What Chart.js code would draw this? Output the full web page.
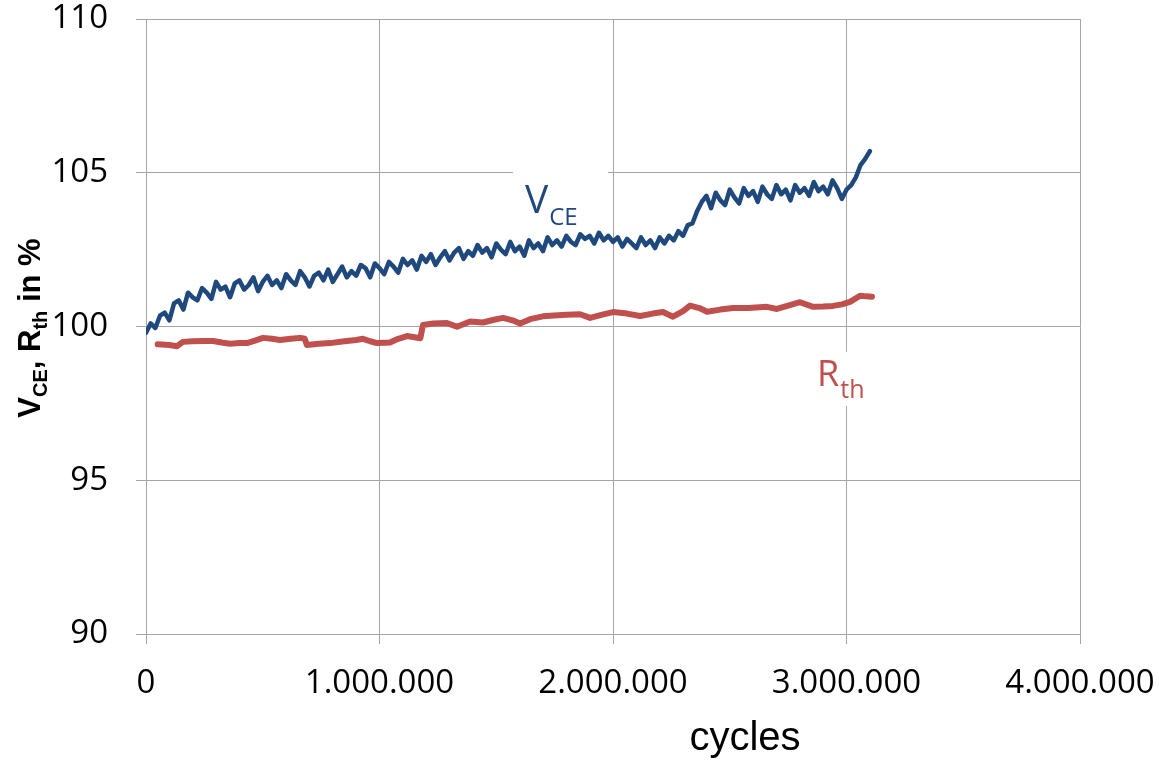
<!DOCTYPE html>
<html>
<head>
<meta charset="utf-8">
<script src="https://cdn.jsdelivr.net/npm/chart.js@4"></script>
<style>
  html, body { margin: 0; padding: 0; background: #fff; }
  #wrap { width: 1159px; height: 761px; }
</style>
</head>
<body>
<div id="wrap"><canvas id="cyclesChart"></canvas></div>
<script>
// cycles in thousands
var vceK = [0,20,40,60,80,100,120,140,160,180,200,220,240,260,280,300,320,340,360,380,
  400,420,440,460,480,500,520,540,560,580,600,620,640,660,680,700,720,740,760,780,
  800,820,840,860,880,900,920,940,960,980,1000,1020,1040,1060,1080,1100,1120,1140,1160,1180,
  1200,1220,1240,1260,1280,1300,1320,1340,1360,1380,1400,1420,1440,1460,1480,1500,1520,1540,1560,1580,
  1600,1620,1640,1660,1680,1700,1720,1740,1760,1780,1800,1820,1840,1860,1880,1900,1920,1940,1960,1980,
  2000,2020,2040,2060,2080,2100,2120,2140,2160,2180,2200,2220,2240,2260,2280,2300,2320,2340,2360,2380,
  2400,2420,2440,2460,2480,2500,2520,2540,2560,2580,2600,2620,2640,2660,2680,2700,2720,2740,2760,2780,
  2800,2820,2840,2860,2880,2900,2920,2940,2960,2980,3000,3020,3040,3060,3080,3100];
var vceValues = [99.8,100.1,99.95,100.35,100.45,100.2,100.75,100.85,100.55,101.1,100.95,100.85,101.25,101.1,100.9,101.45,101.2,101.3,100.95,101.4,
  101.5,101.2,101.35,101.6,101.15,101.45,101.65,101.35,101.5,101.25,101.7,101.5,101.35,101.8,101.6,101.3,101.65,101.75,101.5,101.85,
  101.45,101.7,101.95,101.6,101.8,101.65,102.0,101.9,101.6,102.05,101.9,101.7,102.1,101.95,101.75,102.2,102.0,102.15,101.85,102.3,
  102.1,102.35,102.0,102.25,102.45,102.15,102.4,102.55,102.2,102.45,102.3,102.65,102.4,102.55,102.25,102.7,102.5,102.35,102.75,102.45,
  102.6,102.3,102.8,102.55,102.7,102.45,102.9,102.65,102.8,102.6,102.95,102.75,102.65,103.0,102.85,102.95,102.7,103.05,102.8,102.95,
  102.75,102.9,102.6,102.85,102.7,102.55,102.9,102.65,102.8,102.55,102.9,102.7,102.95,102.8,103.1,102.95,103.3,103.35,103.75,104.05,
  104.25,103.85,104.35,104.1,103.95,104.45,104.2,104.0,104.5,104.25,104.4,104.05,104.55,104.3,104.15,104.6,104.3,104.45,104.1,104.6,
  104.35,104.5,104.25,104.7,104.4,104.55,104.3,104.75,104.5,104.15,104.45,104.6,104.85,105.25,105.45,105.7];

var rthK = [50,100,133,158,200,250,287,330,360,400,433,470,501,540,574,620,660,680,689,740,
  788,850,900,929,960,989,1020,1045,1080,1118,1150,1175,1186,1230,1289,1332,1388,1443,1490,1529,
  1570,1602,1650,1700,1730,1800,1859,1902,1950,2000,2060,2116,2170,2214,2257,2300,2330,2370,2403,2460,
  2514,2580,2659,2702,2750,2801,2857,2900,2942,2980,3015,3058,3085,3109];
var rthValues = [99.42,99.40,99.36,99.50,99.52,99.53,99.53,99.47,99.44,99.46,99.46,99.55,99.63,99.60,99.56,99.60,99.63,99.60,99.40,99.44,
  99.46,99.52,99.56,99.60,99.52,99.46,99.47,99.48,99.60,99.69,99.65,99.62,100.05,100.10,100.11,99.99,100.16,100.13,100.22,100.28,
  100.20,100.10,100.25,100.33,100.35,100.38,100.40,100.28,100.38,100.47,100.42,100.34,100.42,100.47,100.32,100.50,100.68,100.60,100.48,100.55,
  100.60,100.60,100.64,100.57,100.68,100.79,100.64,100.65,100.67,100.72,100.80,101.00,100.98,100.97];

var xTicks = [0, 1000000, 2000000, 3000000, 4000000];
var xTickLabels = ['0', '1.000.000', '2.000.000', '3.000.000', '4.000.000'];
var yTicks = [90, 95, 100, 105, 110];

var vceColor = '#1F497D';
var rthColor = '#C0504D';
var gridColor = '#A6A6A6';

function toPoints(ks, vals) {
  return ks.map(function(k, i) { return { x: k * 1000, y: vals[i] }; });
}

// keep the plot area fixed: labels may spill into the padding
function noLabelPadding(scale) {
  scale.paddingTop = 0;
  scale.paddingBottom = 0;
  scale.paddingLeft = 0;
  scale.paddingRight = 0;
}

// series labels with subscripts, white box behind, and axis titles
var labelPlugin = {
  id: 'labelPlugin',
  beforeDatasetsDraw: function(chart) {
    var ctx = chart.ctx;
    var xs = chart.scales.x, ys = chart.scales.y;
    ctx.save();
    // V_CE
    var vx = xs.getPixelForValue(1623000), vy = ys.getPixelForValue(103.69);
    ctx.fillStyle = '#fff';
    ctx.fillRect(vx - 12, vy - 48, 95, 70);
    ctx.fillStyle = vceColor;
    ctx.textBaseline = 'alphabetic';
    ctx.font = '39px "Open Sans"';
    ctx.fillText('V', vx, vy);
    var w = ctx.measureText('V').width;
    ctx.font = '24px "Open Sans"';
    ctx.fillText('CE', vx + w + 1, vy + 12);
    // R_th
    var rx = xs.getPixelForValue(2874000), ry = ys.getPixelForValue(98.07);
    ctx.fillStyle = '#fff';
    ctx.fillRect(rx - 6, ry - 34, 58, 54);
    ctx.fillStyle = rthColor;
    ctx.font = '36px "Open Sans"';
    ctx.fillText('R', rx, ry);
    w = ctx.measureText('R').width;
    ctx.font = '25px "Open Sans"';
    ctx.fillText('th', rx + w + 1, ry + 12);
    ctx.restore();
  },
  afterDraw: function(chart) {
    var ctx = chart.ctx;
    ctx.save();
    // x title
    ctx.fillStyle = '#000';
    ctx.font = '40px "Liberation Sans"';
    ctx.textAlign = 'center';
    ctx.textBaseline = 'alphabetic';
    ctx.fillText('cycles', 745, 750);
    // y title, rotated, with subscripts
    var parts = [
      ['V', 0, 'bold 31px "Liberation Sans"'],
      ['CE', 7, 'bold 20px "Liberation Sans"'],
      [', R', 0, 'bold 31px "Liberation Sans"'],
      ['th', 7, 'bold 20px "Liberation Sans"'],
      [' in %', 0, 'bold 31px "Liberation Sans"']
    ];
    var total = 0;
    parts.forEach(function(p) { ctx.font = p[2]; total += ctx.measureText(p[0]).width; });
    ctx.translate(40, 328);
    ctx.rotate(-Math.PI / 2);
    ctx.textAlign = 'left';
    var pos = -total / 2;
    parts.forEach(function(p) {
      ctx.font = p[2];
      ctx.fillText(p[0], pos, p[1]);
      pos += ctx.measureText(p[0]).width;
    });
    ctx.restore();
  }
};

var ctx = document.getElementById('cyclesChart').getContext('2d');
var chart = new Chart(ctx, {
  type: 'line',
  data: {
    datasets: [{
      label: 'VCE',
      data: toPoints(vceK, vceValues),
      borderColor: vceColor,
      borderWidth: 4.5,
      pointRadius: 0,
      tension: 0,
      borderJoinStyle: 'round',
      borderCapStyle: 'round'
    }, {
      label: 'Rth',
      data: toPoints(rthK, rthValues),
      borderColor: rthColor,
      borderWidth: 6,
      pointRadius: 0,
      tension: 0,
      borderJoinStyle: 'round',
      borderCapStyle: 'round'
    }]
  },
  options: {
    responsive: true,
    maintainAspectRatio: false,
    animation: false,
    layout: { padding: { top: 19, right: 79, left: 0, bottom: 0 } },
    plugins: {
      legend: { display: false },
      tooltip: { enabled: false }
    },
    scales: {
      x: {
        type: 'linear',
        min: 0,
        max: 4000000,
        afterBuildTicks: function(scale) {
          scale.ticks = xTicks.map(function(v) { return { value: v }; });
        },
        afterFit: function(scale) { scale.height = 127; noLabelPadding(scale); },
        ticks: {
          color: '#000',
          font: { family: '"Open Sans"', size: 33 },
          padding: 20,
          maxRotation: 0,
          callback: function(value) {
            var i = xTicks.indexOf(value);
            return i >= 0 ? xTickLabels[i] : '';
          }
        },
        grid: { color: gridColor, lineWidth: 1, tickLength: 10 },
        border: { color: gridColor, width: 1 }
      },
      y: {
        min: 90,
        max: 110,
        afterBuildTicks: function(scale) {
          scale.ticks = yTicks.map(function(v) { return { value: v }; });
        },
        afterFit: function(scale) { scale.width = 146; noLabelPadding(scale); },
        ticks: {
          color: '#000',
          font: { family: '"Open Sans"', size: 33 },
          padding: 28
        },
        grid: { color: gridColor, lineWidth: 1, tickLength: 10 },
        border: { color: gridColor, width: 1 }
      }
    }
  },
  plugins: [labelPlugin]
});
</script>
</body>
</html>
